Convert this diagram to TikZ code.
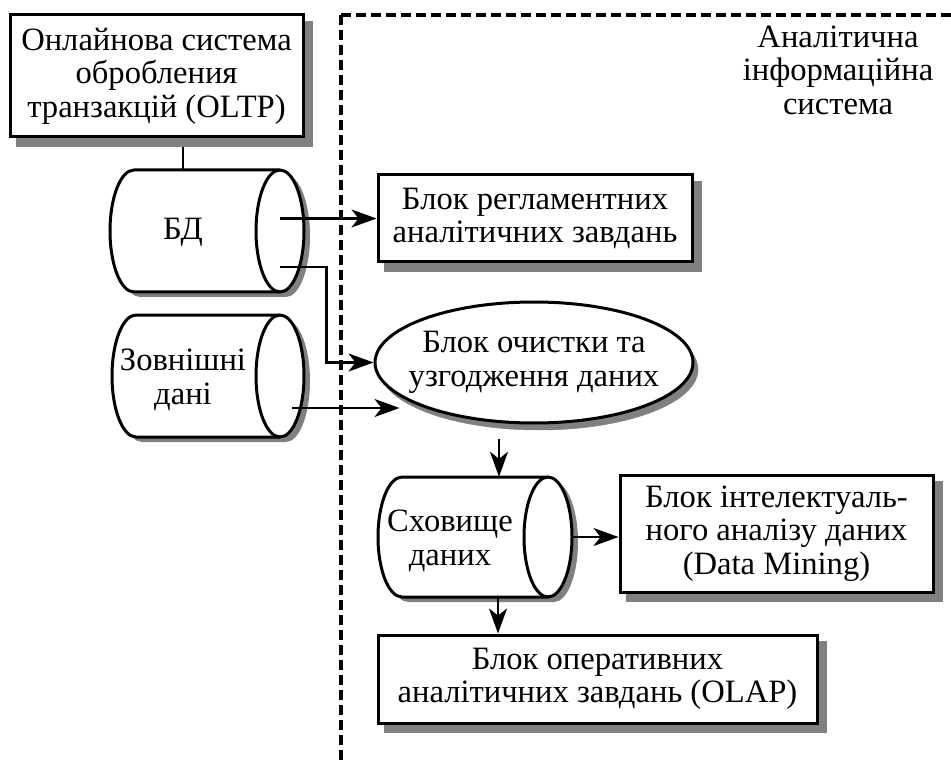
\documentclass[tikz,border=0pt]{standalone}
\usepackage{fontspec}
\setmainfont{Liberation Serif}
\usetikzlibrary{arrows.meta,shadows,calc,shapes.geometric}
\definecolor{shadowgray}{RGB}{128,128,128}

\tikzset{
  lbl/.style={font=\fontsize{32.6pt}{33.5pt}\selectfont, align=center, inner sep=0pt},
  blockbox/.style={lbl, rectangle, draw, line width=3pt, fill=white,
    drop shadow={shadow xshift=8pt, shadow yshift=-8pt, fill=shadowgray,
      draw=shadowgray, line width=4pt, opacity=1}},
  ovalbox/.style={lbl, ellipse, draw, line width=3pt, fill=white, inner xsep=-16pt,
    drop shadow={shadow xshift=5pt, shadow yshift=-7pt, fill=shadowgray,
      draw=shadowgray, line width=0.5pt, opacity=1}},
  conn/.style={line width=2.4pt, -{Stealth[length=25pt,width=18pt,inset=7pt]}},
  link/.style={line width=2.4pt},
  boundary/.style={line width=3.2pt, dash pattern=on 10pt off 5pt},
}

% horizontal storage drum: name, left-cap centre x, right-cap centre x, top y, bottom y
\newcommand{\drum}[5]{%
  \pgfmathsetmacro{\drumry}{(#5-#4)/2}%
  \fill[shadowgray, xshift=6pt, yshift=-5pt] (#2,#4) -- (#3,#4)
    arc[start angle=90,end angle=-90,x radius=24pt,y radius=\drumry pt] -- (#2,#5)
    arc[start angle=270,end angle=90,x radius=24pt,y radius=\drumry pt] -- cycle;
  \filldraw[fill=white, line width=3pt, line join=round] (#2,#4) -- (#3,#4)
    arc[start angle=90,end angle=-90,x radius=24pt,y radius=\drumry pt] -- (#2,#5)
    arc[start angle=270,end angle=90,x radius=24pt,y radius=\drumry pt] -- cycle;
  \draw[line width=3pt] (#3,#4)
    arc[start angle=90,end angle=270,x radius=24pt,y radius=\drumry pt];
  \node[inner sep=0pt, minimum width={(#3-#2)*1pt}, minimum height={(#5-#4)*1pt}]
    (#1) at ({(#2+#3)/2},{(#4+#5)/2}) {};
}

\begin{document}
\begin{tikzpicture}[x=1pt,y=-1pt]
\useasboundingbox (0,0) rectangle (951,762);

% boundary of the analytical system
\coordinate (corner) at (341,15);
\draw[boundary] (corner) -- (341,762);
\draw[boundary] (corner) -- (951,15);

% data sources
\drum{bd}{134}{280}{170}{292}
\node[lbl] (bdlabel) at (183,232) {БД};
\drum{ext}{136}{280}{315}{437}
\node[lbl] (extlabel) at (183,380) {Зовнішні\\дані};

\draw[link, shorten <=10pt] (bdlabel |- 0,137) coordinate (oltpfoot) -- (bdlabel |- bd.north);
\node[blockbox, minimum width=293pt, minimum height=122pt] (oltp) at (156.5,76)
  {Онлайнова система\\обробления\\транзакцій (OLTP)};

% analytical system blocks
\node[blockbox, minimum width=314pt, minimum height=87pt] (reg) at (535,218.5)
  {Блок регламентних\\аналітичних завдань};
\node[ovalbox, minimum width=318pt, minimum height=121pt] (clean) at (534,362.5)
  {Блок очистки та\\узгодження даних};
\drum{dw}{402}{548}{477}{597}
\node[lbl] (dwlabel) at (450,541) {Сховище\\даних};
\node[blockbox, minimum width=313pt, minimum height=117pt] (dm) at (776.5,533.5)
  {Блок інтелектуаль-\\ного аналізу даних\\(Data Mining)};
\node[blockbox, minimum width=439pt, minimum height=88pt] (olap) at (597.5,679)
  {Блок оперативних\\аналітичних завдань (OLAP)};
\node[lbl] (ais) at (838,70) {Аналітична\\інформаційна\\система};

% connectors
\draw[conn] (bd.east |- reg.west) -- (reg.west);
\coordinate (bdout) at ($(bd.east)+(0,36)$);
\draw[conn] (bdout) -| ([xshift=-47pt]clean.west) -- (clean.west);
\coordinate (extout) at ($(ext.east)+(12,32)$);
\draw[conn] (extout) -- ([xshift=26pt]extout -| clean.west);
\coordinate (dwin) at ([xshift=24pt]dw.north);
\draw[conn, shorten <=14pt] (dwin |- clean.south) -- (dwin);
\coordinate (dwright) at ([xshift=24pt]dw.east);
\draw[conn] (dwright) -- (dwright -| dm.west);
\coordinate (dwdown) at ([xshift=23pt]dw.south);
\draw[conn] (dwdown) -- (dwdown |- olap.north);
\end{tikzpicture}
\end{document}
